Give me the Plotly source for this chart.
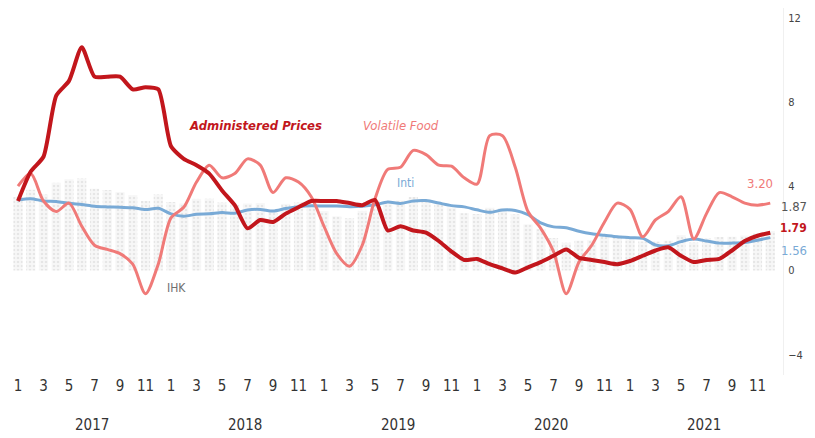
import plotly.graph_objects as go

# ---- data (monthly, Jan 2017 - Dec 2021, % yoy) ----
years = ["2017", "2018", "2019", "2020", "2021"]
month_tick_labels = ["1", "3", "5", "7", "9", "11"]

ihk = [3.49, 3.83, 3.61, 4.17, 4.33, 4.37, 3.88, 3.82, 3.72, 3.58, 3.30, 3.61,
       3.25, 3.18, 3.40, 3.41, 3.23, 3.12, 3.18, 3.20, 2.88, 3.16, 3.23, 3.13,
       2.82, 2.57, 2.48, 2.83, 3.32, 3.28, 3.32, 3.49, 3.39, 3.13, 3.00, 2.72,
       2.68, 2.98, 2.96, 2.67, 2.19, 1.96, 1.54, 1.32, 1.42, 1.44, 1.59, 1.68,
       1.55, 1.38, 1.37, 1.42, 1.68, 1.33, 1.52, 1.59, 1.60, 1.66, 1.75, 1.87]

inti = [3.35, 3.41, 3.30, 3.28, 3.19, 3.13, 3.05, 3.02, 3.00, 2.98, 2.89, 2.95,
        2.69, 2.58, 2.67, 2.69, 2.75, 2.72, 2.87, 2.90, 2.82, 2.94, 3.03, 3.07,
        3.06, 3.06, 3.03, 3.05, 3.12, 3.25, 3.18, 3.30, 3.32, 3.20, 3.08, 3.02,
        2.88, 2.76, 2.87, 2.85, 2.65, 2.26, 2.07, 2.03, 1.86, 1.74, 1.67, 1.60,
        1.56, 1.53, 1.21, 1.18, 1.37, 1.49, 1.40, 1.30, 1.30, 1.33, 1.44, 1.56]

administered = [3.3, 4.7, 5.4, 8.3, 9.0, 10.6, 9.2, 9.2, 9.2, 8.6, 8.7, 8.6,
                5.9, 5.3, 5.0, 4.6, 3.8, 3.1, 2.0, 2.4, 2.3, 2.7, 3.0, 3.3,
                3.3, 3.3, 3.2, 3.1, 3.35, 1.9, 2.1, 1.9, 1.8, 1.4, 0.9, 0.5,
                0.55, 0.3, 0.1, -0.1, 0.15, 0.4, 0.7, 1.0, 0.6, 0.5, 0.4, 0.3,
                0.45, 0.7, 0.95, 1.1, 0.7, 0.4, 0.5, 0.55, 0.95, 1.4, 1.65, 1.79]

volatile_food = [4.0, 4.6, 3.3, 2.8, 3.2, 2.1, 1.2, 1.0, 0.8, 0.3, -1.1, 0.3,
                 2.5, 3.0, 4.2, 5.0, 4.4, 4.6, 5.3, 5.0, 3.7, 4.4, 4.2, 3.5,
                 2.1, 0.8, 0.2, 1.2, 3.4, 4.8, 4.9, 5.7, 5.5, 5.0, 4.95, 4.4,
                 4.1, 6.4, 6.4, 4.9, 2.8, 2.0, 0.9, -1.1, 0.4, 1.2, 2.3, 3.2,
                 2.9, 1.6, 2.4, 2.8, 3.5, 1.5, 2.7, 3.7, 3.5, 3.2, 3.1, 3.2]

y_ticks = [-4, 0, 4, 8, 12]

n = len(ihk)
x = list(range(n))

# ---- colours ----
c_admin = "#c2161c"
c_vf = "#f07a78"
c_inti = "#79aad6"
c_ihk = "#6f6f6f"
FONT = "Liberation Sans Narrow, DejaVu Sans Condensed, Roboto, sans-serif"

fig = go.Figure()

fig.add_trace(go.Bar(
    x=x, y=ihk, width=0.72,
    marker=dict(color="#f5f5f5", line=dict(width=0),
                pattern=dict(shape=".", fgcolor="#d6d6d6", bgcolor="#f7f7f7",
                             size=4, solidity=0.35)),
    showlegend=False, hoverinfo="skip"))

fig.add_trace(go.Scatter(x=x, y=inti, mode="lines",
                         line=dict(color=c_inti, width=3, shape="spline", smoothing=0.8),
                         showlegend=False))
fig.add_trace(go.Scatter(x=x, y=volatile_food, mode="lines",
                         line=dict(color=c_vf, width=3, shape="spline", smoothing=0.8),
                         showlegend=False))
fig.add_trace(go.Scatter(x=x, y=administered, mode="lines",
                         line=dict(color=c_admin, width=4, shape="spline", smoothing=0.6),
                         showlegend=False))

# month tick labels
tickvals = []
ticktext = []
for yi in range(len(years)):
    for k, lab in enumerate(month_tick_labels):
        tickvals.append(yi * 12 + k * 2)
        ticktext.append(lab)

annotations = []
for yi, yr in enumerate(years):
    annotations.append(dict(x=yi * 12 + 5.8, y=-0.136, xref="x", yref="paper",
                            yanchor="middle", text=yr, showarrow=False,
                            font=dict(family=FONT, size=15, color="#333333")))

# series labels
annotations += [
    dict(x=18.6, y=6.9, xref="x", yref="y", text="<b><i>Administered Prices</i></b>",
         showarrow=False, font=dict(family=FONT, size=13, color=c_admin)),
    dict(x=30.0, y=6.9, xref="x", yref="y", text="<i>Volatile Food</i>",
         showarrow=False, font=dict(family=FONT, size=13, color=c_vf)),
    dict(x=30.4, y=4.15, xref="x", yref="y", text="Inti",
         showarrow=False, font=dict(family=FONT, size=12, color=c_inti)),
    dict(x=12.4, y=-0.83, xref="x", yref="y", text="IHK",
         showarrow=False, font=dict(family=FONT, size=12, color=c_ihk)),
]

# end value labels (paper x just right of the plot)
end_labels = [
    (volatile_food[-1], 4.15, c_vf, False, "right", 0.990, 13),
    (ihk[-1], 3.02, "#555555", False, "left", 0.9945, 13),
    (administered[-1], 2.02, c_admin, True, "left", 0.9935, 12),
    (inti[-1], 0.97, c_inti, False, "left", 0.9945, 13),
]
for val, ypos, col, bold, anchor, xpos, fsize in end_labels:
    txt = f"{val:.2f}"
    if bold:
        txt = f"<b>{txt}</b>"
    annotations.append(dict(x=xpos, y=ypos, xref="paper", yref="y", text=txt,
                            showarrow=False, xanchor=anchor,
                            font=dict(family=FONT, size=fsize, color=col)))

fig.update_layout(
    width=807, height=430,
    margin=dict(l=0, r=32, t=0, b=63),
    paper_bgcolor="white", plot_bgcolor="white",
    bargap=0.25,
    xaxis=dict(range=[-0.784, 60.0], tickvals=tickvals, ticktext=ticktext,
               tickangle=0, showgrid=False, zeroline=False, showline=False,
               ticks="", tickfont=dict(family=FONT, size=15, color="#333333")),
    yaxis=dict(range=[-4.96, 12.46], side="right", tickvals=y_ticks,
               showgrid=False, zeroline=False, showline=True,
               linecolor="#f0f0f0", linewidth=1, ticks="",
               ticklabelstandoff=2,
               tickfont=dict(family=FONT, size=11, color="#444444")),
    annotations=annotations,
)

fig.write_html("out.html")
